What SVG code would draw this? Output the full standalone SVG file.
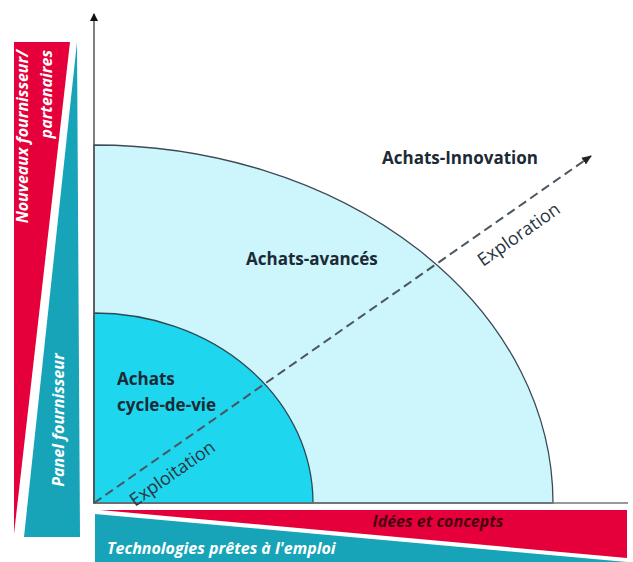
<svg xmlns="http://www.w3.org/2000/svg" width="633" height="562" viewBox="0 0 633 562">
<defs>
<marker id="ah" markerWidth="8" markerHeight="8" refX="7" refY="4" orient="auto" markerUnits="userSpaceOnUse"><path d="M0,0 L8,4 L0,8 Z" fill="#111"/></marker>
<marker id="ah2" markerWidth="10" markerHeight="10" refX="9" refY="5" orient="auto" markerUnits="userSpaceOnUse"><path d="M0,1 L10,5 L0,9 Z" fill="#222"/></marker>
</defs>
<style>
.lbl{font-family:"Open Sans","Liberation Sans",sans-serif;font-weight:bold;font-size:17px;fill:#1c2a36}
.bar{font-family:"Open Sans","Liberation Sans",sans-serif;font-weight:bold;font-style:italic;font-size:16px;fill:#fff}
.dir{font-family:"Open Sans","Liberation Sans",sans-serif;font-size:18px;fill:#2a3540}
.red{fill:#e5003b}
.teal{fill:#17a4b8}
</style>
<rect width="633" height="562" fill="#fff"/>
<g id="regions">
<g id="achats-avances"><path d="M94,503 L94,145 A459,358 0 0 1 553,503 Z" fill="#cdf5fc" stroke="#3c4a55" stroke-width="1.3"/></g>
<g id="achats-cycle"><path d="M94,503 L94,313 A219,190 0 0 1 313,503 Z" fill="#1ed6ee" stroke="#2c4a55" stroke-width="1.3"/></g>
</g>
<g id="connectors">
<line id="axis-y" x1="94" y1="503" x2="94" y2="14" stroke="#555" stroke-width="1.5" marker-end="url(#ah)"/>
<line id="axis-x" x1="94" y1="503" x2="628" y2="503" stroke="#777" stroke-width="1.5"/>
<line id="diag" x1="94" y1="503" x2="591" y2="156" stroke="#4a555f" stroke-width="2" stroke-dasharray="9,5" marker-end="url(#ah2)"/>
</g>
<g id="left-bars">
<polygon class="red" points="14,42 70,42 14,534"/>
<polygon class="teal" points="77,42 80,537 24,537"/>
<text class="bar" transform="translate(28,50) rotate(-90)" text-anchor="end">Nouveaux fournisseur/</text>
<text class="bar" transform="translate(52,50) rotate(-90)" text-anchor="end">partenaires</text>
<text class="bar" transform="translate(64,420) rotate(-90)" text-anchor="middle">Panel fournisseur</text>
</g>
<g id="bottom-bars">
<polygon class="red" points="100,510 627,510 627,558"/>
<polygon class="teal" points="95,514 627,562 95,562"/>
<text class="bar" x="438" y="527" text-anchor="middle" style="fill:#4a0010">Idées et concepts</text>
<text class="bar" x="107" y="554">Technologies prêtes à l'emploi</text>
</g>
<g id="labels">
<g id="lbl-innov"><text class="lbl" x="382" y="164">Achats-Innovation</text></g>
<g id="lbl-avances"><text class="lbl" x="246" y="265">Achats-avancés</text></g>
<g id="lbl-cycle"><text class="lbl" x="117" y="385">Achats</text><text class="lbl" x="117" y="411">cycle-de-vie</text></g>
<text class="dir" transform="translate(483,267) rotate(-35)">Exploration</text>
<text class="dir" transform="translate(135,507) rotate(-35)">Exploitation</text>
</g>
</svg>
